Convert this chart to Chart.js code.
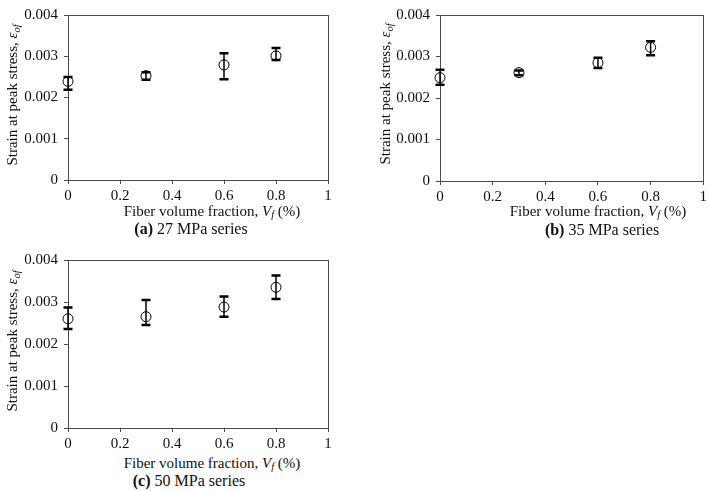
<!DOCTYPE html>
<html>
<head>
<meta charset="utf-8">
<script src="https://cdn.jsdelivr.net/npm/chart.js@4.4.1/dist/chart.umd.min.js"></script>
<style>
  body { margin: 0; background: #fff; }
  #wrap { position: relative; width: 710px; height: 491px; overflow: hidden; font-family: "Liberation Serif", "Times New Roman", serif; color: #111; }
  canvas { position: absolute; }
  .lbl { position: absolute; white-space: nowrap; font-size: 15px; line-height: 1; transform: translate(-50%, -50%); }
  .ytitle { width: 160px; height: 16px; line-height: 16px; text-align: center; transform: translate(-80px, -8px) rotate(-90deg); }
  .cap { font-size: 16px; }
  sub { font-size: 70%; vertical-align: -0.25em; line-height: 0; }
</style>
</head>
<body>
<div id="wrap">
  <canvas id="chartA"></canvas>
  <canvas id="chartB"></canvas>
  <canvas id="chartC"></canvas>

  <div class="lbl ytitle" style="left:12px; top:95px;">Strain at peak stress, <i>ε<sub>of</sub></i></div>
  <div class="lbl" style="left:212px; top:211px;">Fiber volume fraction, <i>V<sub>f</sub></i> (%)</div>
  <div class="lbl cap" style="left:191px; top:229px;"><b>(a)</b> 27 MPa series</div>

  <div class="lbl ytitle" style="left:385px; top:94px;">Strain at peak stress, <i>ε<sub>of</sub></i></div>
  <div class="lbl" style="left:598px; top:211px;">Fiber volume fraction, <i>V<sub>f</sub></i> (%)</div>
  <div class="lbl cap" style="left:602px; top:230px;"><b>(b)</b> 35 MPa series</div>

  <div class="lbl ytitle" style="left:12px; top:341px;">Strain at peak stress, <i>ε<sub>of</sub></i></div>
  <div class="lbl" style="left:212px; top:463px;">Fiber volume fraction, <i>V<sub>f</sub></i> (%)</div>
  <div class="lbl cap" style="left:189px; top:481px;"><b>(c)</b> 50 MPa series</div>
</div>

<script>
// fiber volume fraction (%)
const volFrac = [0, 0.3, 0.6, 0.8];

// strain at peak stress, mean and error bar limits
const strainA = [0.00239, 0.00253, 0.00279, 0.00301];
const lowA    = [0.00219, 0.00243, 0.00244, 0.00291];
const highA   = [0.00250, 0.00261, 0.00307, 0.00320];

const strainB = [0.00249, 0.00261, 0.00285, 0.00322];
const lowB    = [0.00232, 0.00255, 0.00272, 0.00303];
const highB   = [0.00268, 0.00266, 0.00297, 0.00337];

const strainC = [0.00260, 0.00265, 0.00288, 0.00335];
const lowC    = [0.00236, 0.00245, 0.00265, 0.00307];
const highC   = [0.00287, 0.00305, 0.00313, 0.00363];

const xTicks = [0, 0.2, 0.4, 0.6, 0.8, 1];
const yTicks = [0, 0.001, 0.002, 0.003, 0.004];
const yTickLabels = ['0', '0.001', '0.002', '0.003', '0.004'];

const axisColor = '#4a4a4a';
const tickFont = { family: '"Liberation Serif", "Times New Roman", serif', size: 15 };

// error bars drawn through the chart's own scales
const errorBars = {
  id: 'errorBars',
  afterDatasetsDraw(chart, args, opts) {
    const { ctx, scales: { x, y } } = chart;
    const half = 4.5;
    ctx.save();
    ctx.strokeStyle = '#000';
    opts.low.forEach((lo, i) => {
      const px = x.getPixelForValue(volFrac[i]);
      const top = y.getPixelForValue(opts.high[i]);
      const bot = y.getPixelForValue(lo);
      ctx.lineWidth = 1.5;
      ctx.beginPath();
      ctx.moveTo(px, top);
      ctx.lineTo(px, bot);
      ctx.stroke();
      ctx.lineWidth = 2.5;
      ctx.beginPath();
      ctx.moveTo(px - half, top);
      ctx.lineTo(px + half, top);
      ctx.moveTo(px - half, bot);
      ctx.lineTo(px + half, bot);
      ctx.stroke();
    });
    ctx.restore();
  }
};

// frame around the plot area
const frame = {
  id: 'frame',
  beforeDatasetsDraw(chart) {
    const { ctx, chartArea: a } = chart;
    ctx.save();
    ctx.strokeStyle = axisColor;
    ctx.lineWidth = 1;
    ctx.strokeRect(Math.round(a.left) + 0.5, Math.round(a.top) + 0.5,
      Math.round(a.right - a.left), Math.round(a.bottom - a.top));
    ctx.restore();
  }
};

function makeChart(id, box, strain, low, high) {
  // box: canvas position and plot-area edges in page pixels
  const canvas = document.getElementById(id);
  canvas.style.left = box.cx + 'px';
  canvas.style.top = box.cy + 'px';
  canvas.style.width = box.cw + 'px';
  canvas.style.height = box.ch + 'px';
  canvas.width = box.cw;
  canvas.height = box.ch;

  const yWidth = box.left - box.cx;
  const xHeight = box.cy + box.ch - box.bottom;

  return new Chart(canvas.getContext('2d'), {
    type: 'scatter',
    data: {
      datasets: [{
        data: volFrac.map((v, i) => ({ x: v, y: strain[i] })),
        pointStyle: 'circle',
        pointRadius: 5,
        pointHoverRadius: 5,
        pointBorderWidth: 1,
        pointBorderColor: '#000',
        pointBackgroundColor: 'rgba(0,0,0,0)',
        showLine: false,
        clip: false
      }]
    },
    options: {
      responsive: false,
      animation: false,
      layout: { padding: { top: box.top - box.cy, right: box.cx + box.cw - box.right, left: 0, bottom: 0 } },
      scales: {
        x: {
          type: 'linear',
          min: 0, max: 1,
          afterBuildTicks: s => { s.ticks = xTicks.map(v => ({ value: v })); },
          afterFit: s => { s.height = xHeight; },
          ticks: { color: '#111', font: tickFont, padding: 3, maxRotation: 0,
                   callback: v => String(v) },
          grid: { drawOnChartArea: false, tickLength: 4, color: axisColor },
          border: { color: axisColor, width: 1 }
        },
        y: {
          type: 'linear',
          min: 0, max: 0.004,
          afterBuildTicks: s => { s.ticks = yTicks.map(v => ({ value: v })); },
          afterFit: s => { s.width = yWidth; },
          ticks: { color: '#111', font: tickFont, padding: 6,
                   callback: (v, i) => yTickLabels[i] },
          grid: { drawOnChartArea: false, tickLength: 4, color: axisColor },
          border: { color: axisColor, width: 1 }
        }
      },
      plugins: {
        legend: { display: false },
        tooltip: { enabled: false },
        errorBars: { low, high }
      }
    },
    plugins: [frame, errorBars]
  });
}

makeChart('chartA', { cx: 0, cy: 0, cw: 340, ch: 204, left: 68, top: 10, right: 328, bottom: 180 }, strainA, lowA, highA);
makeChart('chartB', { cx: 360, cy: 0, cw: 350, ch: 204, left: 440, top: 7, right: 705, bottom: 181 }, strainB, lowB, highB);
makeChart('chartC', { cx: 0, cy: 245, cw: 340, ch: 207, left: 68, top: 255, right: 328, bottom: 428 }, strainC, lowC, highC);
</script>
</body>
</html>
